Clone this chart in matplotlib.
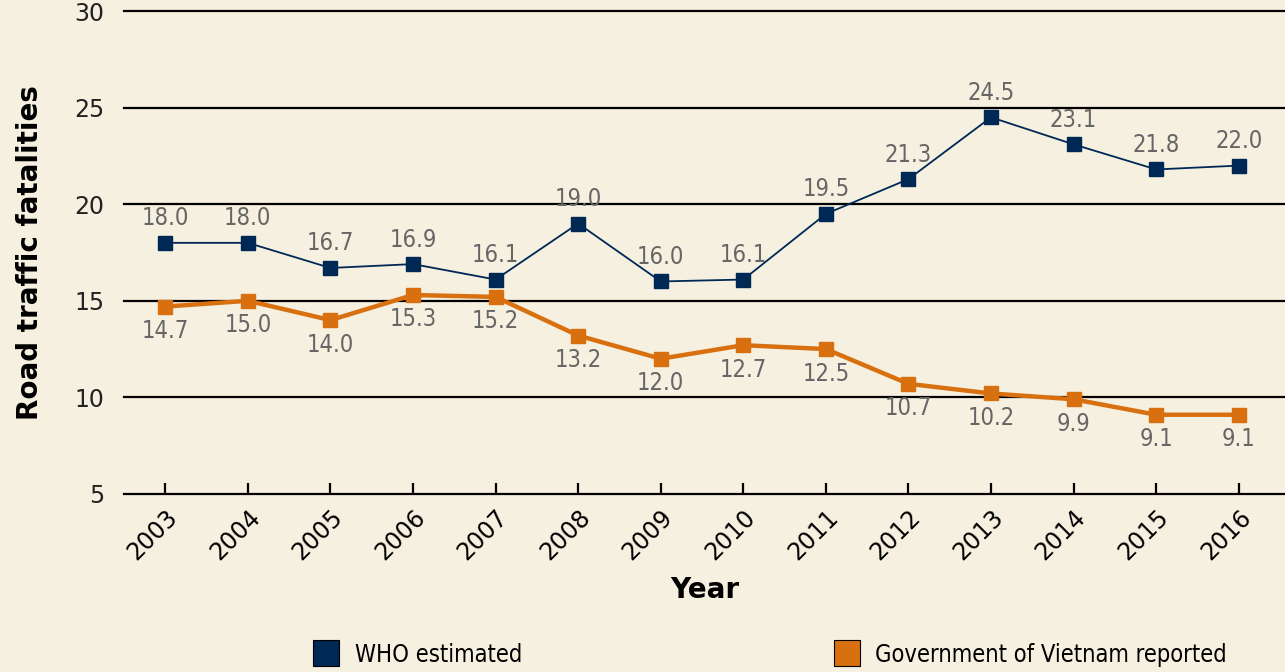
import numpy as np
import matplotlib
matplotlib.use('Agg')
import matplotlib.pyplot as plt
from matplotlib.lines import Line2D

years = [2003, 2004, 2005, 2006, 2007, 2008, 2009, 2010, 2011, 2012, 2013, 2014, 2015, 2016]
who_estimated = [18.0, 18.0, 16.7, 16.9, 16.1, 19.0, 16.0, 16.1, 19.5, 21.3, 24.5, 23.1, 21.8, 22.0]
gov_reported = [14.7, 15.0, 14.0, 15.3, 15.2, 13.2, 12.0, 12.7, 12.5, 10.7, 10.2, 9.9, 9.1, 9.1]
y_ticks = [5, 10, 15, 20, 25, 30]

BG = '#F5F0E0'
NAVY = '#002855'
ORANGE = '#D9700F'
LABEL_GREY = '#666666'

plt.rcParams['font.family'] = ['DejaVu Sans']

fig = plt.figure(figsize=(12.85, 6.72), dpi=100, facecolor=BG)
ax = fig.add_axes([0.0965, 0.265, 0.9035, 0.7185], facecolor=BG)

# gridlines drawn as black horizontal rules
for v in y_ticks[1:]:
    ax.axhline(v, color='black', lw=1.6, zorder=1, clip_on=False)

ax.plot(years, who_estimated, color=NAVY, lw=1.3, marker='s', markersize=10.5,
        markeredgecolor=NAVY, zorder=3)
ax.plot(years, gov_reported, color=ORANGE, lw=3.2, marker='s', markersize=10.5,
        markeredgecolor=ORANGE, zorder=3)

for x, v in zip(years, who_estimated):
    ax.annotate(f'{v:.1f}', (x, v), xytext=(0, 9), textcoords='offset points',
                ha='center', va='bottom', fontsize=17, color=LABEL_GREY,
                fontstretch='condensed')
for x, v in zip(years, gov_reported):
    ax.annotate(f'{v:.1f}', (x, v), xytext=(0, -9), textcoords='offset points',
                ha='center', va='top', fontsize=17, color=LABEL_GREY,
                fontstretch='condensed')

ax.set_xlim(2002.5, 2016.56)
ax.set_ylim(5, 30)
ax.set_yticks(y_ticks)
ax.set_yticklabels([str(t) for t in y_ticks], fontsize=17)
ax.tick_params(axis='y', length=0, pad=14, colors='#222222')
ax.set_xticks(years)
ax.set_xticklabels([str(y) for y in years], rotation=45, ha='right',
                   rotation_mode='anchor', fontsize=17)
ax.tick_params(axis='x', direction='in', length=8, width=1.6, pad=8, colors='black')

for s in ['top', 'right', 'left']:
    ax.spines[s].set_visible(False)
ax.spines['bottom'].set_linewidth(1.6)

ax.set_xlabel('Year', fontsize=20, fontweight='bold', labelpad=8)
ax.set_ylabel('Road traffic fatalities', fontsize=20, fontweight='bold', labelpad=22)

legend_items = [('WHO estimated', NAVY, 0.243), ('Government of Vietnam reported', ORANGE, 0.648)]
for label, color, xpos in legend_items:
    h = Line2D([], [], marker='s', linestyle='none', markersize=19,
               markerfacecolor=color, markeredgecolor='black', markeredgewidth=0.8)
    fig.legend([h], [label], loc='center left', bbox_to_anchor=(xpos, 0.026),
               frameon=False, handletextpad=0.6, handlelength=1.2,
               borderaxespad=0, borderpad=0, prop={'size': 17, 'stretch': 'condensed'})

fig.savefig('out.png', dpi=100, facecolor=BG)
